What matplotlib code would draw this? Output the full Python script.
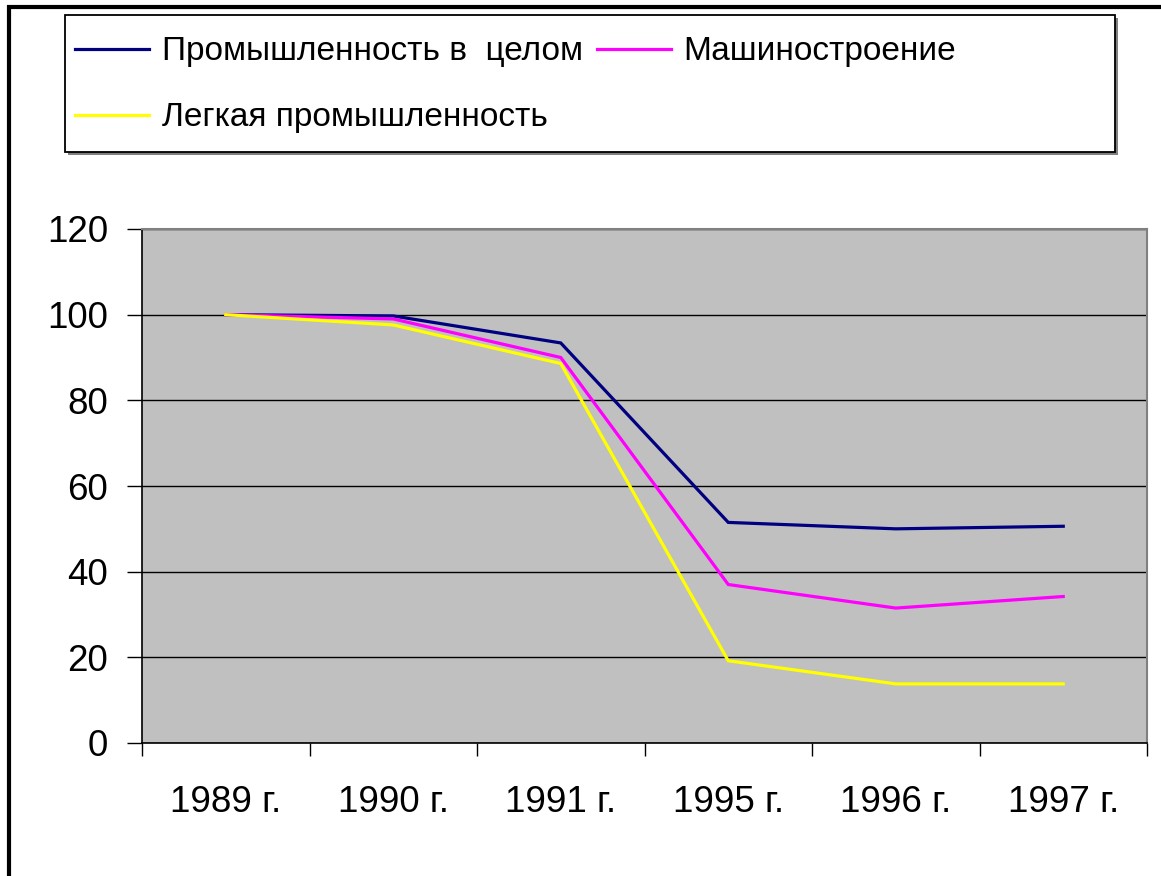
import matplotlib
matplotlib.use("Agg")
import matplotlib.pyplot as plt
from matplotlib.patches import Rectangle

# data
years = ["1989 г.", "1990 г.", "1991 г.", "1995 г.", "1996 г.", "1997 г."]
industry_total = [100, 99.7, 93.4, 51.5, 50.0, 50.6]
machine_building = [100, 99.0, 90.0, 37.0, 31.5, 34.2]
light_industry = [100, 97.6, 88.6, 19.2, 13.8, 13.8]
labels = ["Промышленность в  целом", "Машиностроение", "Легкая промышленность"]
colors = ["#000080", "#FF00FF", "#FFFF00"]
yticks = [0, 20, 40, 60, 80, 100, 120]

plt.rcParams["font.family"] = ["Liberation Sans", "DejaVu Sans"]

W, H = 1161, 876
fig = plt.figure(figsize=(W / 100, H / 100), dpi=100)
fig.patch.set_facecolor("white")

def fx(px):
    return px / W

def fy(py):
    return 1 - py / H

# outer frame (cut at right and bottom like the reference)
fig.add_artist(Rectangle((fx(9), fy(H + 20)), fx(W + 40), fy(7) - fy(H + 20),
                         transform=fig.transFigure, fill=False, ec="black", lw=3))

ax = fig.add_axes([fx(142), fy(743), fx(1147 - 142), fy(229) - fy(743)])
ax.set_facecolor("#C0C0C0")

x = list(range(len(years)))
series = [industry_total, machine_building, light_industry]
handles = []
for vals, lab, col in zip(series, labels, colors):
    h, = ax.plot(x, vals, color=col, lw=2.3, label=lab, solid_joinstyle="miter")
    handles.append(h)

ax.set_xlim(-0.5, len(years) - 0.5)
ax.set_ylim(0, 120)
ax.set_yticks(yticks)
ax.set_yticklabels([str(v) for v in yticks], fontsize=26.5)
ax.yaxis.grid(True, color="black", lw=1)
ax.set_axisbelow(True)

# category labels centred, tick marks on the boundaries
ax.set_xticks([i - 0.5 for i in range(len(years) + 1)])
ax.set_xticklabels([])
ax.set_xticks(x, minor=True)
ax.set_xticklabels(years, minor=True, fontsize=26.5)
ax.tick_params(axis="x", which="minor", length=0, pad=30)
ax.tick_params(axis="x", which="major", length=9.5, width=1, color="black", direction="out")
ax.tick_params(axis="y", length=10.5, width=1, color="black", pad=14)

for s in ["top", "right"]:
    ax.spines[s].set_color("#808080")
    ax.spines[s].set_linewidth(1.5)
ax.spines["left"].set_color("black")
ax.spines["bottom"].set_color("black")
ax.spines["left"].set_linewidth(1.2)
ax.spines["bottom"].set_linewidth(1.2)

# legend box with a light shadow
fig.add_artist(Rectangle((fx(68), fy(155)), fx(1118 - 68), fy(18) - fy(155),
                         transform=fig.transFigure, fc="#808080", ec="none"))
fig.add_artist(Rectangle((fx(65), fy(152)), fx(1115 - 65), fy(15) - fy(152),
                         transform=fig.transFigure, fc="white", ec="black", lw=1.3))

order = [0, 2, 1]
leg = fig.legend([handles[i] for i in order], [labels[i] for i in order],
                 loc="upper left", bbox_to_anchor=(fx(52), fy(13)), ncol=2,
                 frameon=False, fontsize=24, handlelength=2.22, handletextpad=0.39,
                 columnspacing=0.4, labelspacing=1.05, borderpad=0.2)
for ln in leg.get_lines():
    ln.set_linewidth(2.3)

fig.savefig("out.png", dpi=100)
